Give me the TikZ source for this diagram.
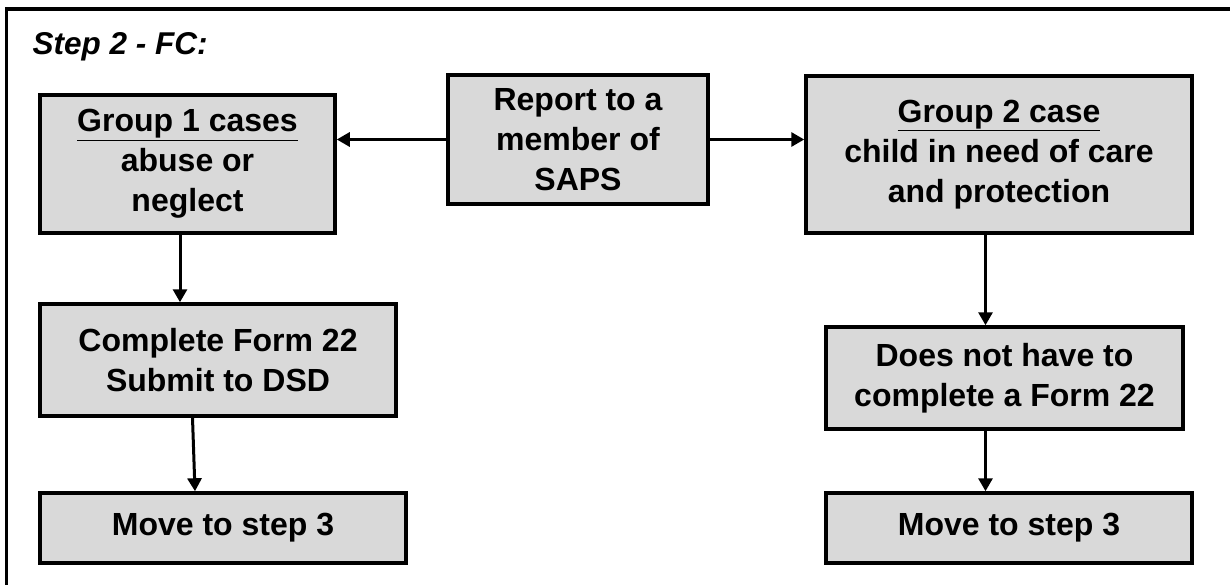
\documentclass[tikz,border=0pt]{standalone}
\usepackage{fontspec}
\setmainfont{Liberation Sans}
\usetikzlibrary{arrows.meta}

\begin{document}
\begin{tikzpicture}
  [x=1pt, y=-1pt]
  \tikzstyle{box} = [draw=black, line width=3.5pt, fill=black!15, align=center, inner sep=0pt,
                     font=\fontsize{32}{40}\selectfont\bfseries];
  \tikzstyle{arr} = [line width=3pt, -{Triangle[length=13pt, width=14pt]}];

  \useasboundingbox (0, 0) rectangle (1230, 585);

  % frame
  \draw[line width=3.5pt] (6.5, 585) -- (6.5, 9) -- (1230, 9);

  \node[anchor=base west, font=\fontsize{31.5}{38}\selectfont\bfseries\itshape] (title) at (29, 55) {Step 2 - FC:};

  \node[box, minimum width=295pt, minimum height=138pt] (g1) at (187.5, 164)
    {\underline{Group 1 cases}\\abuse or\\neglect};
  \node[box, minimum width=260pt, minimum height=129pt] (report) at (578, 139.5)
    {Report to a\\member of\\SAPS};
  \node[box, minimum width=386pt, minimum height=157pt] (g2) at (999, 154.5)
    {\underline{Group 2 case}\\child in need of care\\and protection};

  \node[box, minimum width=356pt, minimum height=112pt] (form) at (218, 360)
    {Complete Form 22\\Submit to DSD};
  \node[box, minimum width=366pt, minimum height=70pt] (move1) at (223, 528)
    {Move to step 3};

  \node[box, minimum width=357pt, minimum height=102pt] (noform) at (1004.5, 378)
    {Does not have to\\complete a Form 22};
  \node[box, minimum width=366pt, minimum height=70pt] (move2) at (1009, 528)
    {Move to step 3};

  \draw[arr] (report.west) -- (report.west -| g1.east);
  \draw[arr] (report.east) -- (report.east -| g2.west);

  \draw[arr] ([xshift=-7.5pt]g1.south) -- ([xshift=-7.5pt]g1.south |- form.north);
  \draw[arr] ([xshift=-25.5pt]form.south) -- ([xshift=-28pt]move1.north);

  \coordinate (rx) at ([xshift=-13.5pt]g2.south);
  \draw[arr] (rx) -- (rx |- noform.north);
  \draw[arr] (noform.south -| rx) -- (move2.north -| rx);

\end{tikzpicture}
\end{document}
